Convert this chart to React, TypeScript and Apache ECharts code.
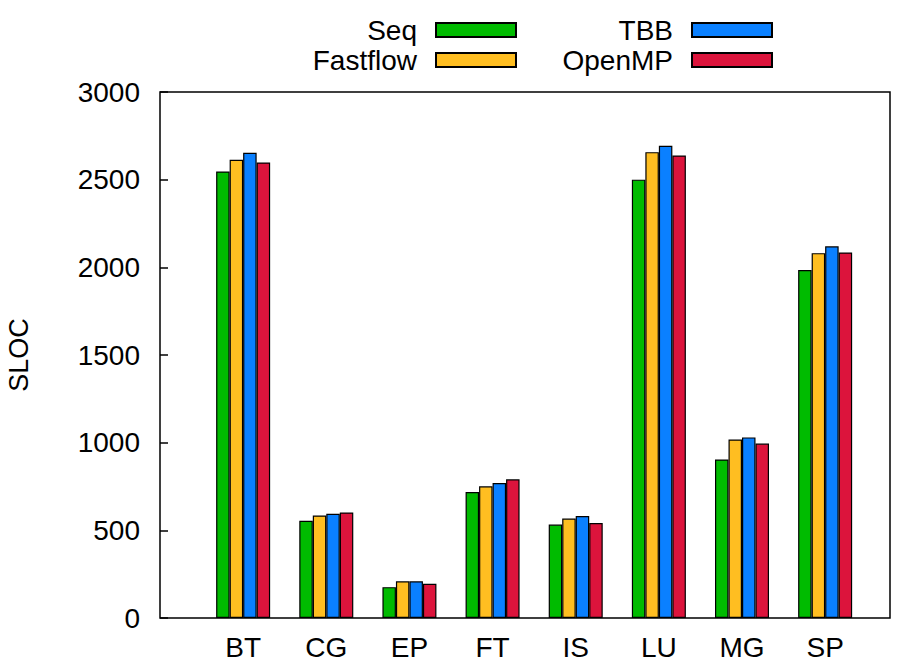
import React, { useEffect, useRef } from "react";
import * as echarts from "echarts";

const categories = ["BT", "CG", "EP", "FT", "IS", "LU", "MG", "SP"];
const seqValues = [2547, 554, 176, 719, 533, 2500, 904, 1985];
const fastflowValues = [2614, 585, 209, 751, 567, 2657, 1018, 2081];
const tbbValues = [2653, 594, 209, 770, 582, 2693, 1030, 2120];
const openmpValues = [2598, 602, 195, 791, 542, 2638, 995, 2085];
const seriesNames = ["Seq", "Fastflow", "TBB", "OpenMP"];
const seriesColors = ["#00BB00", "#FFBE21", "#0A80FF", "#DC143C"];
const yTicks = [0, 500, 1000, 1500, 2000, 2500, 3000];

const FONT = "Liberation Sans, Arial, Helvetica, sans-serif";

export default function App() {
  const ref = useRef<HTMLDivElement>(null);
  useEffect(() => {
    if (!ref.current) return;
    const chart = echarts.init(ref.current, undefined, { renderer: "svg" });
    const allValues = [seqValues, fastflowValues, tbbValues, openmpValues];
    const series = seriesNames.map((name, si) => ({
      name,
      type: "bar" as const,
      barWidth: 13.5,
      barGap: "0%",
      itemStyle: { color: seriesColors[si], borderColor: "#000", borderWidth: 1.2 },
      data: allValues[si].map((v, i) => [i, v]),
    }));
    const legendPos = [
      { right: 382, top: 16 },
      { right: 382, top: 46 },
      { right: 126, top: 16 },
      { right: 126, top: 46 },
    ];
    const legends = seriesNames.map((name, i) => ({
      data: [name],
      ...legendPos[i],
      align: "right" as const,
      orient: "vertical" as const,
      padding: 0,
      itemWidth: 80,
      itemHeight: 14,
      icon: "rect",
      selectedMode: false,
      textStyle: { fontFamily: FONT, fontSize: 28, color: "#000", padding: [0, 14, 0, 0] },
    }));
    chart.setOption({
      animation: false,
      legend: legends,
      grid: {
        left: 160,
        right: 9,
        top: 92,
        bottom: 44,
        show: true,
        borderColor: "#000",
        borderWidth: 1.5,
        containLabel: false,
        outerBoundsMode: "none",
      },
      xAxis: {
        type: "value",
        min: -1,
        max: 7.78,
        interval: 1,
        splitLine: { show: false },
        axisLine: { show: false, onZero: false },
        axisTick: { show: false },
        axisLabel: {
          showMaxLabel: false,
          showMinLabel: false,
          margin: 15,
          fontFamily: FONT,
          fontSize: 28,
          color: "#000",
          formatter: (v: number) => (Number.isInteger(v) && categories[v] ? categories[v] : ""),
        },
      },
      yAxis: {
        type: "value",
        min: yTicks[0],
        max: yTicks[yTicks.length - 1],
        interval: 500,
        name: "SLOC",
        nameLocation: "middle",
        nameRotate: 90,
        nameGap: 128,
        nameTextStyle: { fontFamily: FONT, fontSize: 27, color: "#000" },
        splitLine: { show: false },
        axisLine: { show: false, onZero: false },
        axisTick: { show: true, inside: true, length: 8, lineStyle: { color: "#000", width: 1.5 } },
        axisLabel: {
          margin: 20,
          fontFamily: FONT,
          fontSize: 28,
          color: "#000",
          formatter: (v: number) => String(v),
        },
      },
      series,
    });
    return () => chart.dispose();
  }, []);
  return <div ref={ref} style={{ width: 899, height: 662, position: "absolute", left: 0, top: 0 }} />;
}
